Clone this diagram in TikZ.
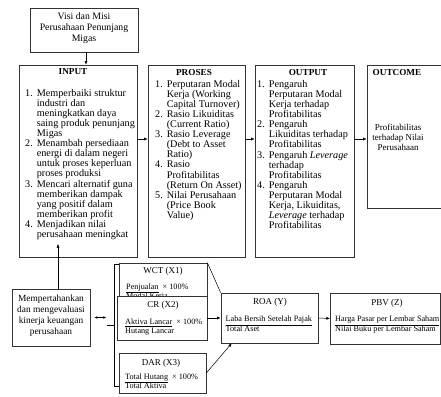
\documentclass[tikz,border=0pt]{standalone}
\usepackage{fontspec}
\setmainfont{Liberation Serif}
\usetikzlibrary{arrows.meta}

\begin{document}
\begin{tikzpicture}[x=1pt,y=-1pt,
	box/.style={draw=black!80, line width=0.7pt, fill=white, inner sep=0pt},
	ttl/.style={font=\fontsize{9.2}{10}\selectfont\bfseries, inner sep=0pt},
	lst/.style={anchor=north west, inner sep=0pt, font=\fontsize{10.2}{10.1}\selectfont},
	txt/.style={align=center, inner sep=0pt, font=\fontsize{9.8}{11}\selectfont},
	var/.style={inner sep=0pt, font=\fontsize{9}{10}\selectfont},
	frac/.style={anchor=north west, align=left, inner sep=0pt, font=\fontsize{8.2}{9.5}\selectfont},
	arr/.style={-{Latex[length=3.5pt,width=3pt]}, line width=0.5pt},
	biarr/.style={{Latex[length=3pt,width=2.6pt]}-{Latex[length=3pt,width=2.6pt]}, line width=0.5pt}]
	\useasboundingbox (0,0) rectangle (441,396);
	% upper row
	\node[box, minimum width=108pt, minimum height=44pt] (visi) at (84,30) {};
	\node[txt] (visi-txt) at (84,28) {Visi dan Misi\\Perusahaan Penunjang\\Migas};
	\node[box, minimum width=118pt, minimum height=192pt] (input) at (78,161) {};
	\node[box, minimum width=97pt, minimum height=192pt] (proses) at (196.5,161) {};
	\node[box, minimum width=99pt, minimum height=192pt] (output) at (304.5,161) {};
	\node[box, minimum width=92pt, minimum height=143pt] (outcome) at (413,136.5) {};
	\node[ttl] (input-ttl) at (73,72) {INPUT};
	\node[ttl] (proses-ttl) at (194,72) {PROSES};
	\node[ttl] (output-ttl) at (308,72) {OUTPUT};
	\node[ttl] (outcome-ttl) at (397,72) {OUTCOME};
	\node[lst] (input-txt) at (25,88.8) {\begin{tabular}{@{}r@{\hspace{4pt}}l@{}}
		1. & Memperbaiki struktur\\
		   & industri dan\\
		   & meningkatkan daya\\
		   & saing produk penunjang\\
		   & Migas\\
		2. & Menambah persediaan\\
		   & energi di dalam negeri\\
		   & untuk proses keperluan\\
		   & proses produksi\\
		3. & Mencari alternatif guna\\
		   & memberikan dampak\\
		   & yang positif dalam\\
		   & memberikan profit\\
		4. & Menjadikan nilai\\
		   & perusahaan meningkat
	\end{tabular}};
	\node[lst] (proses-txt) at (155,79.8) {\begin{tabular}{@{}r@{\hspace{4pt}}l@{}}
		1. & Perputaran Modal\\
		   & Kerja (Working\\
		   & Capital Turnover)\\
		2. & Rasio Likuiditas\\
		   & (Current Ratio)\\
		3. & Rasio Leverage\\
		   & (Debt to Asset\\
		   & Ratio)\\
		4. & Rasio\\
		   & Profitabilitas\\
		   & (Return On Asset)\\
		5. & Nilai Perusahaan\\
		   & (Price Book\\
		   & Value)
	\end{tabular}};
	\node[lst] (output-txt) at (257,79.8) {\begin{tabular}{@{}r@{\hspace{4pt}}l@{}}
		1. & Pengaruh\\
		   & Perputaran Modal\\
		   & Kerja terhadap\\
		   & Profitabilitas\\
		2. & Pengaruh\\
		   & Likuiditas terhadap\\
		   & Profitabilitas\\
		3. & Pengaruh \textit{Leverage}\\
		   & terhadap\\
		   & Profitabilitas\\
		4. & Pengaruh\\
		   & Perputaran Modal\\
		   & Kerja, Likuiditas,\\
		   & \textit{Leverage} terhadap\\
		   & Profitabilitas
	\end{tabular}};
	\node[txt, font=\fontsize{9}{10}\selectfont] (outcome-txt) at (398,137) {Profitabilitas\\terhadap Nilai\\Perusahaan};
	\coordinate (mid) at (0,139);
	\draw[arr] ([xshift=2pt]visi.south) -- ([xshift=2pt]visi.south |- input.north);
	\draw[arr] (input.east |- mid) -- (proses.west |- mid);
	\draw[arr] (proses.east |- mid) -- (output.west |- mid);
	\draw[arr] (output.east |- mid) -- (outcome.west |- mid);
	% lower row
	\node[box, minimum width=78pt, minimum height=57pt] (mpk) at (51,317.5) {};
	\node[txt, font=\fontsize{9.4}{11}\selectfont] (mpk-txt) at (51,315.5) {Mempertahankan\\dan mengevaluasi\\kinerja keuangan\\perusahaan};
	\coordinate (inp-in) at (58,244);
	\draw[arr] (mpk.north -| inp-in) -- (inp-in);
	\node[box, minimum width=88pt, minimum height=42pt] (wct) at (163,284) {};
	\node[var] (wct-ttl) at (163,271) {WCT (X1)};
	\node[frac] (wct-txt) at (126,283.5) {\underline{Penjualan}\ \ × 100\%\\Modal Kerja};
	\node[box, minimum width=90pt, minimum height=44pt] (cr) at (162,318) {};
	\node[var] (cr-ttl) at (163,305) {CR (X2)};
	\node[frac] (cr-txt) at (125,318.5) {\underline{Aktiva Lancar}\ \ × 100\%\\Hutang Lancar};
	\node[box, minimum width=87pt, minimum height=40pt] (dar) at (162.5,373) {};
	\node[var] (dar-ttl) at (161,363) {DAR (X3)};
	\node[frac] (dar-txt) at (125,373.5) {\underline{Total Hutang}\ \ × 100\%\\Total Aktiva};
	\node[box, minimum width=97pt, minimum height=50pt] (roa) at (269.5,318) {};
	\node[var] (roa-ttl) at (270,302) {ROA (Y)};
	\node[frac] (roa-txt) at (225.5,316) {\underline{Laba Bersih Setelah Pajak}\\Total Aset};
	\node[box, minimum width=110pt, minimum height=51pt] (pbv) at (385.2,318.5) {};
	\node[var] (pbv-ttl) at (387,303) {PBV (Z)};
	\node[frac] (pbv-txt) at (335,316) {\underline{Harga Pasar per Lembar Saham}\\Nilai Buku per Lembar Saham};
	% bracket and links
	\coordinate (brk) at (107,325);
	\draw[biarr] ([xshift=4pt]mpk.east) -- ([xshift=16pt]mpk.east);
	\draw[line width=0.5pt] (brk) -- ++(7,0);
	\draw[line width=0.5pt] (119,264) -| (114,386) -- (119,386);
	\draw[line width=0.5pt] (wct.north east) -- (roa.north west);
	\draw[arr] (cr.east) -- (roa.west);
	\draw[arr] (dar.east) -- ([xshift=11pt]roa.south west);
	\draw[arr] (roa.east) -- (pbv.west);
\end{tikzpicture}
\end{document}
